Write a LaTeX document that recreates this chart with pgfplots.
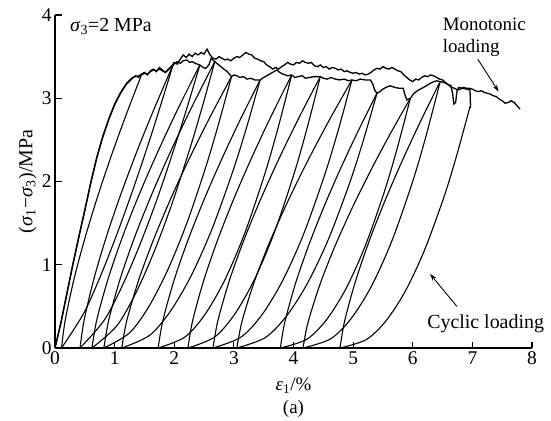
\documentclass[border=0pt]{standalone}
\usepackage{fontspec}
\setmainfont{Liberation Serif}
\usepackage{pgfplots}
\pgfplotsset{compat=1.18}
\usetikzlibrary{arrows.meta}
\newcommand{\fs}{\fontsize{20}{21}\selectfont}
\newcommand{\fb}{\fontsize{19}{21}\selectfont}
\newcommand{\ft}{\fontsize{19.5}{21}\selectfont}
\begin{document}
\begin{tikzpicture}
\begin{axis}[name=ax, scale only axis, width=477bp, height=333bp,
  xmin=0, xmax=8, ymin=0, ymax=4,
  axis x line=bottom, axis y line=left,
  axis line style={-, line width=1.2pt},
  xtick={0,1,2,3,4,5,6,7,8}, ytick={0,1,2,3,4},
  tick align=inside, major tick length=6.5bp,
  tick style={black, line width=1.1pt},
  tick label style={font=\ft},
  /pgf/number format/assume math mode=true,
  clip=false,
  cyc/.style={black, line width=1.1pt, smooth, tension=0.5},
  env/.style={black, line width=1.3pt},
]
% monotonic loading
\addplot[env] coordinates {
(0,0) (0.1,0.3) (0.2,0.65) (0.3,1.0) (0.4,1.33) (0.5,1.65) (0.6,1.98) (0.7,2.28) (0.8,2.53) (0.9,2.74)
(1.0,2.92) (1.1,3.06) (1.2,3.17) (1.3,3.24) (1.35,3.27) (1.4,3.25) (1.45,3.29) (1.5,3.31) (1.55,3.28)
(1.6,3.33) (1.65,3.35) (1.7,3.32) (1.75,3.37) (1.8,3.34) (1.85,3.31) (1.9,3.35) (1.95,3.38) (2.0,3.43)
(2.05,3.41) (2.1,3.47) (2.15,3.52) (2.2,3.49) (2.25,3.53) (2.3,3.50) (2.35,3.54) (2.4,3.52) (2.45,3.55)
(2.5,3.53) (2.55,3.59) (2.6,3.52) (2.65,3.48) (2.7,3.47) (2.75,3.50) (2.8,3.48) (2.85,3.46) (2.9,3.47)
(2.95,3.45) (3.0,3.48) (3.05,3.50) (3.1,3.49) (3.15,3.52) (3.2,3.55) (3.25,3.53) (3.3,3.52) (3.35,3.48)
(3.4,3.47) (3.45,3.45) (3.5,3.44) (3.55,3.40) (3.6,3.38) (3.65,3.35) (3.7,3.37) (3.75,3.35) (3.8,3.38)
(3.85,3.40) (3.9,3.43) (3.95,3.41) (4.0,3.40) (4.05,3.43) (4.1,3.42) (4.15,3.45) (4.2,3.43) (4.25,3.42)
(4.3,3.43) (4.35,3.39) (4.4,3.38) (4.45,3.40) (4.5,3.37) (4.55,3.38) (4.6,3.35) (4.65,3.37) (4.7,3.36)
(4.75,3.34) (4.8,3.35) (4.85,3.32) (4.9,3.33) (4.95,3.31) (5.0,3.30) (5.05,3.31) (5.1,3.29) (5.15,3.30)
(5.2,3.28) (5.25,3.29) (5.3,3.31) (5.35,3.34) (5.4,3.36) (5.45,3.35) (5.5,3.38) (5.55,3.36) (5.6,3.35)
(5.65,3.37) (5.7,3.35) (5.75,3.33) (5.8,3.32) (5.85,3.28) (5.9,3.25) (5.95,3.22) (6.0,3.20) (6.05,3.23)
(6.1,3.22) (6.15,3.25) (6.2,3.27) (6.25,3.26) (6.3,3.28) (6.35,3.27) (6.4,3.25) (6.45,3.23) (6.5,3.22)
(6.55,3.19) (6.6,3.16) (6.65,3.13) (6.7,3.12) (6.75,3.10) (6.8,3.11) (6.85,3.13) (6.9,3.12) (6.95,3.12)
(7.0,3.11) (7.05,3.09) (7.1,3.08) (7.15,3.09) (7.2,3.07) (7.25,3.06) (7.3,3.05) (7.35,3.03) (7.4,3.02)
(7.45,2.99) (7.5,2.97) (7.55,2.94) (7.6,2.95) (7.65,2.97) (7.7,2.95) (7.75,2.91) (7.8,2.87)
};
% cyclic loading: envelope of the cycles
\addplot[env] coordinates {
(0,0) (0.1,0.31) (0.2,0.66) (0.3,1.01) (0.4,1.34) (0.5,1.66) (0.6,1.99) (0.7,2.29) (0.8,2.54) (0.9,2.75)
(1.0,2.93) (1.1,3.07) (1.2,3.18) (1.3,3.25) (1.45,3.28)
(1.5,3.30) (1.55,3.29) (1.6,3.32) (1.65,3.34) (1.7,3.33) (1.75,3.35) (1.8,3.33) (1.85,3.31) (1.9,3.34)
(1.98,3.40) (2.05,3.44) (2.1,3.42) (2.15,3.45) (2.21,3.46) (2.26,3.43) (2.3,3.44) (2.35,3.42) (2.43,3.40)
(2.48,3.37) (2.53,3.36) (2.58,3.40) (2.62,3.48) (2.65,3.46) (2.68,3.44) (2.73,3.41) (2.8,3.37) (2.85,3.34)
(2.89,3.32) (2.96,3.26) (3.0,3.28) (3.05,3.27) (3.1,3.25) (3.16,3.26) (3.22,3.23) (3.28,3.24) (3.35,3.22)
(3.44,3.22) (3.5,3.25) (3.55,3.27) (3.6,3.29) (3.65,3.31) (3.72,3.34) (3.77,3.31) (3.82,3.29) (3.9,3.27)
(3.97,3.28) (4.02,3.25) (4.08,3.26) (4.15,3.27) (4.2,3.24) (4.27,3.25) (4.35,3.26) (4.45,3.26) (4.5,3.24)
(4.57,3.23) (4.63,3.25) (4.7,3.23) (4.77,3.22) (4.85,3.23) (4.92,3.21) (4.98,3.22) (5.05,3.21) (5.12,3.23)
(5.2,3.22) (5.29,3.22) (5.33,3.17) (5.36,3.10) (5.40,3.06) (5.45,3.08) (5.5,3.11) (5.55,3.13) (5.62,3.15)
(5.7,3.13) (5.77,3.12) (5.84,3.12) (5.87,3.04) (5.9,2.98) (5.96,3.00) (6.02,3.06) (6.1,3.10) (6.18,3.13)
(6.25,3.16) (6.32,3.19) (6.4,3.21) (6.46,3.20) (6.52,3.19) (6.58,3.17) (6.64,3.15) (6.67,3.05) (6.69,2.93)
(6.72,2.95) (6.74,3.08) (6.77,3.13) (6.83,3.12) (6.9,3.11) (6.96,3.10) (6.97,2.88)
};
% cyclic loading: unloading and reloading branches
\addplot[cyc] coordinates {(1.45,3.28) (1.186,2.788) (0.938,2.296) (0.708,1.804) (0.499,1.312) (0.316,0.82) (0.170,0.328) (0.11,0)};
\addplot[cyc] coordinates {(0.11,0) (0.484,0.42) (0.765,0.868) (1.045,1.38) (1.326,1.94) (1.606,2.54) (1.793,2.965) (1.98,3.40)};
\addplot[cyc] coordinates {(1.98,3.40) (1.673,2.89) (1.384,2.38) (1.116,1.87) (0.872,1.36) (0.660,0.85) (0.490,0.34) (0.42,0)};
\addplot[cyc] coordinates {(0.42,0) (0.822,0.33) (1.124,0.741) (1.425,1.244) (1.727,1.819) (2.028,2.462) (2.229,2.921) (2.43,3.40)};
\addplot[cyc] coordinates {(2.43,3.40) (2.073,2.89) (1.739,2.38) (1.427,1.87) (1.145,1.36) (0.899,0.85) (0.701,0.34) (0.62,0)};
\addplot[cyc] coordinates {(0.62,0) (1.032,0.262) (1.341,0.640) (1.65,1.135) (1.959,1.727) (2.268,2.408) (2.474,2.907) (2.68,3.44)};
\addplot[cyc] coordinates {(2.68,3.44) (2.314,2.924) (1.969,2.408) (1.650,1.892) (1.359,1.376) (1.106,0.86) (0.904,0.344) (0.82,0)};
\addplot[cyc] coordinates {(0.82,0) (1.248,0.18) (1.569,0.492) (1.89,0.936) (2.211,1.50) (2.532,2.181) (2.746,2.699) (2.96,3.26)};
\addplot[cyc] coordinates {(2.96,3.26) (2.598,2.771) (2.257,2.282) (1.941,1.793) (1.654,1.304) (1.403,0.815) (1.203,0.326) (1.12,0)};
\addplot[cyc] coordinates {(1.12,0) (1.584,0.151) (1.932,0.438) (2.28,0.863) (2.628,1.42) (2.976,2.109) (3.208,2.637) (3.44,3.22)};
\addplot[cyc] coordinates {(3.44,3.22) (3.103,2.737) (2.787,2.254) (2.493,1.771) (2.226,1.288) (1.993,0.805) (1.807,0.322) (1.73,0)};
\addplot[cyc] coordinates {(1.73,0) (2.178,0.131) (2.514,0.402) (2.85,0.82) (3.186,1.386) (3.522,2.099) (3.746,2.657) (3.97,3.28)};
\addplot[cyc] coordinates {(3.97,3.28) (3.627,2.788) (3.305,2.296) (3.006,1.804) (2.735,1.312) (2.498,0.82) (2.308,0.328) (2.23,0)};
\addplot[cyc] coordinates {(2.23,0) (2.674,0.130) (3.007,0.399) (3.34,0.815) (3.673,1.377) (4.006,2.086) (4.228,2.641) (4.45,3.26)};
\addplot[cyc] coordinates {(4.45,3.26) (4.095,2.771) (3.762,2.282) (3.453,1.793) (3.172,1.304) (2.927,0.815) (2.731,0.326) (2.65,0)};
\addplot[cyc] coordinates {(2.65,0) (3.116,0.129) (3.466,0.394) (3.815,0.805) (4.165,1.360) (4.514,2.061) (4.747,2.608) (4.98,3.22)};
\addplot[cyc] coordinates {(4.98,3.22) (4.600,2.737) (4.243,2.254) (3.911,1.771) (3.610,1.288) (3.347,0.805) (3.137,0.322) (3.05,0)};
\addplot[cyc] coordinates {(3.05,0) (3.52,0.122) (3.873,0.375) (4.225,0.765) (4.578,1.293) (4.93,1.958) (5.165,2.479) (5.40,3.06)};
\addplot[cyc] coordinates {(5.40,3.06) (5.081,2.601) (4.781,2.142) (4.503,1.683) (4.250,1.224) (4.029,0.765) (3.853,0.306) (3.78,0)};
\addplot[cyc] coordinates {(3.78,0) (4.216,0.102) (4.543,0.33) (4.87,0.699) (5.197,1.215) (5.524,1.878) (5.742,2.406) (5.96,3.0)};
\addplot[cyc] coordinates {(5.96,3.0) (5.605,2.55) (5.272,2.1) (4.963,1.65) (4.682,1.2) (4.437,0.75) (4.241,0.3) (4.16,0)};
\addplot[cyc] coordinates {(4.16,0) (4.62,0.109) (4.965,0.352) (5.31,0.746) (5.655,1.296) (6.0,2.003) (6.23,2.566) (6.46,3.2)};
\addplot[cyc] coordinates {(6.46,3.2) (6.129,2.72) (5.818,2.24) (5.529,1.76) (5.267,1.28) (5.039,0.8) (4.856,0.32) (4.78,0)};
\addplot[cyc] coordinates {(4.78,0) (5.216,0.099) (5.543,0.319) (5.87,0.676) (6.197,1.175) (6.524,1.815) (6.742,2.326) (6.96,2.9)};

% annotations
\node[anchor=west, inner sep=0pt, font=\fs] at (axis cs:0.25,3.86) {\textit{σ}\textsubscript{3}=2 MPa};
\node[anchor=base west, inner sep=0pt, font=\fb] at (axis cs:6.50,3.808) {Monotonic};
\node[anchor=base west, inner sep=0pt, font=\fb] at (axis cs:6.50,3.550) {loading};
\node[anchor=base west, inner sep=0pt, font=\fs] at (axis cs:6.24,0.24) {Cyclic loading};
\draw[-{Stealth[length=7bp,width=4.5bp]}, line width=0.9pt] (axis cs:7.09,3.47) -- (axis cs:7.44,3.08);
\draw[-{Stealth[length=7bp,width=4.5bp]}, line width=0.9pt] (axis cs:6.74,0.50) -- (axis cs:6.29,0.89);
\node[anchor=base, inner sep=0pt, font=\fb] at (rel axis cs:0.5,-0.1291) {\textit{ε}\textsubscript{1}/\%};
\node[anchor=base, inner sep=0pt, font=\fb] at (rel axis cs:0.5,-0.1952) {(a)};
\node[font=\fs, rotate=90, inner sep=0pt] at (rel axis cs:-0.0577,0.5) {(\textit{σ}\textsubscript{1}−\textit{σ}\textsubscript{3})/MPa};
\end{axis}
\pgfresetboundingbox
\path[use as bounding box] ([xshift=-55bp,yshift=-73bp]ax.south west) rectangle ([xshift=19bp,yshift=15bp]ax.north east);
\end{tikzpicture}
\end{document}
